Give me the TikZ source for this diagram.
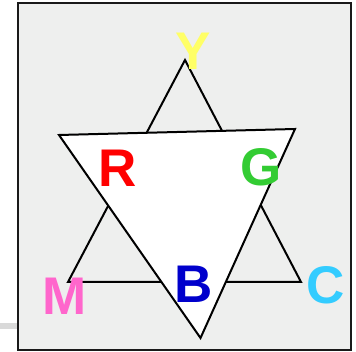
\documentclass[tikz,border=0pt]{standalone}
\usepackage{fontspec}
\setmainfont{Liberation Sans}
\newfontfamily\heavyfont{Liberation Sans Bold}
\definecolor{bgc}{HTML}{EEEFEE}
\definecolor{ycol}{HTML}{FFFF66}
\definecolor{rcol}{HTML}{FF0000}
\definecolor{gcol}{HTML}{33CC33}
\definecolor{mcol}{HTML}{FF66CC}
\definecolor{bcol}{HTML}{0000CC}
\definecolor{ccol}{HTML}{33CCFF}
\begin{document}
\begin{tikzpicture}[x=1pt,y=-1pt,
  letter/.style={inner sep=0pt,anchor=center,font=\heavyfont\fontsize{53}{53}\selectfont},
  tri/.style={draw=black,line width=2pt,line join=miter}]
\useasboundingbox (0,0) rectangle (356,352);
\draw[line width=6pt,draw=black!15] (0,326) -- (18,326);
\draw[fill=bgc,draw=black!90,line width=2.5pt] (18,3) rectangle (351,350);
\coordinate (u1) at (185,60);
\coordinate (u2) at (68,282);
\coordinate (u3) at (301,282);
\coordinate (d1) at (59,135);
\coordinate (d2) at (295,129);
\coordinate (d3) at (200.5,338);
\draw[tri] (u1) -- (u2) -- (u3) -- cycle;
\draw[tri,fill=white] (d1) -- (d2) -- (d3) -- cycle;
\node[letter,text=ycol] (Y) at (193,51) {Y};
\node[letter,text=rcol] (R) at (118,168) {R};
\node[letter,text=gcol] (G) at (261,167) {G};
\node[letter,text=mcol] (M) at (65,296) {M};
\node[letter,text=bcol] (B) at (194,284) {B};
\node[letter,text=ccol] (C) at (326,285) {C};
\end{tikzpicture}
\end{document}
